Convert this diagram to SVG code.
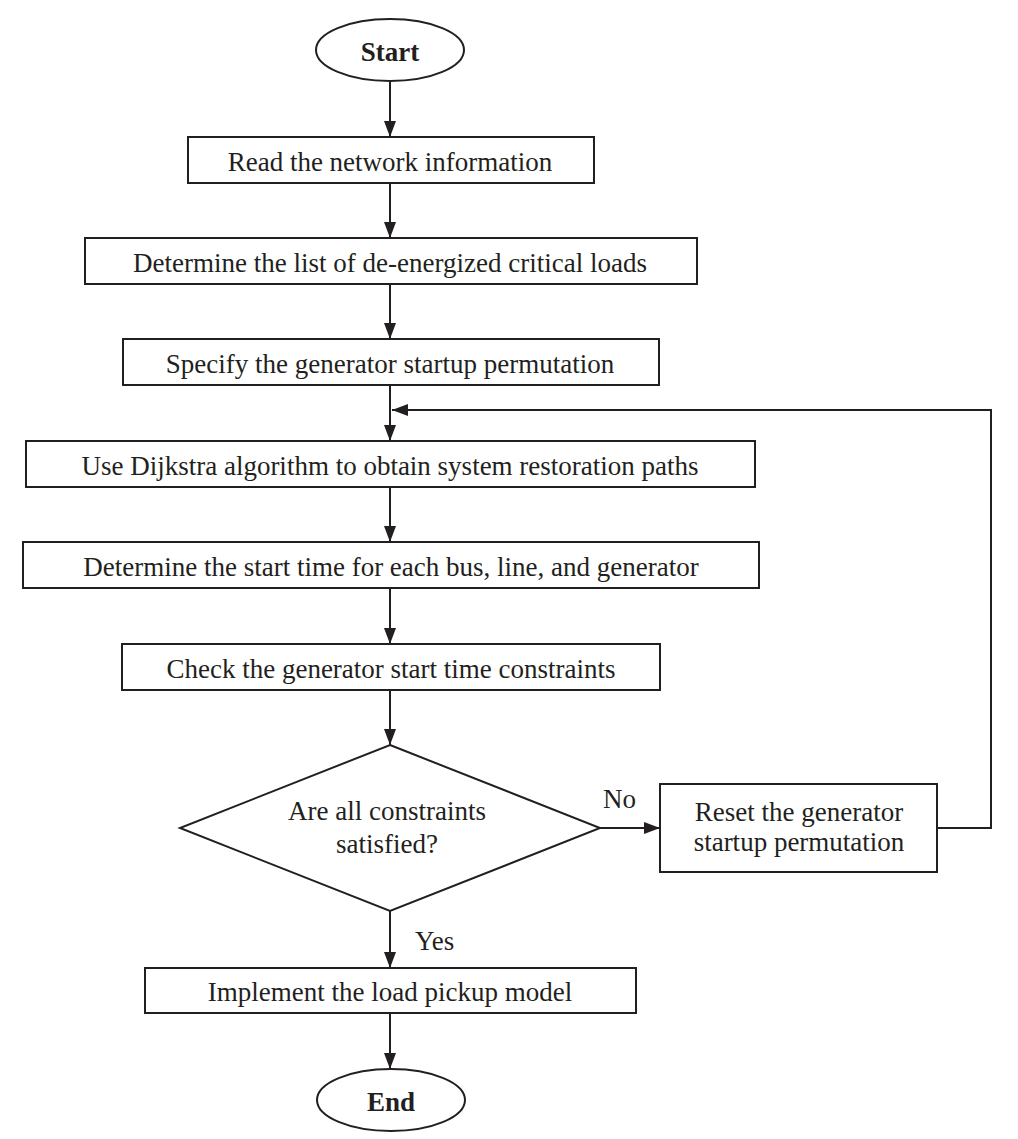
<svg xmlns="http://www.w3.org/2000/svg" width="1018" height="1139" viewBox="0 0 1018 1139">
<style>
.n{fill:#fff;stroke:#231f20;stroke-width:2}
.t{font-family:"Liberation Serif","Times New Roman",serif;font-size:27px;fill:#231f20;text-anchor:middle}
.b{font-weight:bold}
.l{text-anchor:start}
.c{fill:none;stroke:#231f20;stroke-width:2}
</style>
<defs>
<marker id="ah" markerUnits="userSpaceOnUse" markerWidth="16" markerHeight="12" refX="16" refY="6" orient="auto">
<path d="M0,0 L16,6 L0,12 z" fill="#231f20"/>
</marker>
</defs>
<rect width="1018" height="1139" fill="#fff"/>
<g id="connectors">
<line class="c" x1="390" y1="81" x2="390" y2="137" marker-end="url(#ah)"/>
<line class="c" x1="390" y1="183" x2="390" y2="238" marker-end="url(#ah)"/>
<line class="c" x1="390" y1="284" x2="390" y2="339" marker-end="url(#ah)"/>
<line class="c" x1="390" y1="385" x2="390" y2="441" marker-end="url(#ah)"/>
<line class="c" x1="390" y1="487" x2="390" y2="542" marker-end="url(#ah)"/>
<line class="c" x1="390" y1="588" x2="390" y2="644" marker-end="url(#ah)"/>
<line class="c" x1="390" y1="690" x2="390" y2="745" marker-end="url(#ah)"/>
<line class="c" x1="600" y1="828" x2="660" y2="828" marker-end="url(#ah)"/>
<polyline class="c" points="937,828 991,828 991,410 392,410" marker-end="url(#ah)"/>
<line class="c" x1="390" y1="911" x2="390" y2="968" marker-end="url(#ah)"/>
<line class="c" x1="390" y1="1013" x2="390" y2="1069" marker-end="url(#ah)"/>
<text class="t l" x="603" y="808">No</text>
<text class="t l" x="415" y="950">Yes</text>
</g>
<g id="start">
<ellipse class="n" cx="390" cy="50" rx="74" ry="31"/>
<text class="t b" x="390" y="61">Start</text>
</g>
<g id="read">
<rect class="n" x="188" y="137" width="406" height="46"/>
<text class="t" x="390" y="171">Read the network information</text>
</g>
<g id="determine-loads">
<rect class="n" x="85" y="238" width="612" height="46"/>
<text class="t" x="390" y="272">Determine the list of de-energized critical loads</text>
</g>
<g id="specify">
<rect class="n" x="123" y="339" width="536" height="46"/>
<text class="t" x="390" y="373">Specify the generator startup permutation</text>
</g>
<g id="dijkstra">
<rect class="n" x="26" y="441" width="729" height="46"/>
<text class="t" x="390" y="475">Use Dijkstra algorithm to obtain system restoration paths</text>
</g>
<g id="start-time">
<rect class="n" x="23" y="542" width="736" height="46"/>
<text class="t" x="391" y="576">Determine the start time for each bus, line, and generator</text>
</g>
<g id="check">
<rect class="n" x="122" y="644" width="538" height="46"/>
<text class="t" x="391" y="678">Check the generator start time constraints</text>
</g>
<g id="decision">
<polygon class="n" points="390,745 600,828 390,911 180,828"/>
<text class="t" x="387" y="820">Are all constraints</text>
<text class="t" x="387" y="853">satisfied?</text>
</g>
<g id="reset">
<rect class="n" x="660" y="784" width="277" height="88"/>
<text class="t" x="799" y="821">Reset the generator</text>
<text class="t" x="799" y="851">startup permutation</text>
</g>
<g id="implement">
<rect class="n" x="145" y="968" width="491" height="45"/>
<text class="t" x="390" y="1001">Implement the load pickup model</text>
</g>
<g id="end">
<ellipse class="n" cx="391" cy="1100" rx="74" ry="31"/>
<text class="t b" x="391" y="1111">End</text>
</g>
</svg>
